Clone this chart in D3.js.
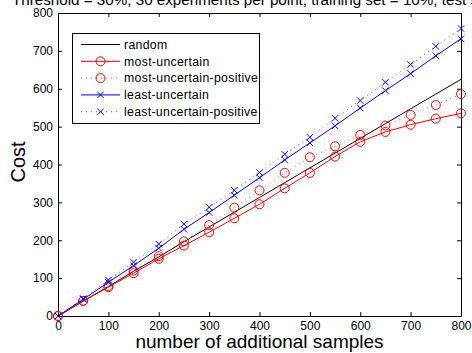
<!DOCTYPE html>
<html><head><meta charset="utf-8">
<script src="https://cdn.jsdelivr.net/npm/d3@7"></script>
<style>body{margin:0;background:#fff;overflow:hidden;} svg{display:block;font-family:"Liberation Sans",Arial,Helvetica,sans-serif;}</style>
</head><body><svg id="c" width="472" height="353"></svg>
<script>
const samples=[0,50,100,150,200,250,300,350,400,450,500,550,600,650,700,750,800];
const randomCost=[0,39,78,118,156,196,235,274,313,352,391,430,469,508,547,586,625];
const mostUncertain=[0,40,76,113,151,186,221,258,295,337,378,421,460,486,505,521,535];
const mostUncertainPositive=[0,40,79,120,158,197,240,286,332,378,419,448,478,503,531,557,586];
const leastUncertain=[0,44,89,133,179,229,273,319,365,412,457,502,549,595,640,687,732];
const leastUncertainPositive=[0,46,95,142,190,243,287,332,379,427,472,522,569,617,664,712,759];
const xTicks=[0,100,200,300,400,500,600,700,800];
const yTicks=[0,100,200,300,400,500,600,700,800];
const legendLabels=["random","most-uncertain","most-uncertain-positive","least-uncertain","least-uncertain-positive"];
const titleText="Threshold = 30%, 30 experiments per point, training set = 10%, test set";
const xLabel="number of additional samples";
const yLabel="Cost";

const svg=d3.select("#c");
const L=58,R=461,T=13,B=316;
const x=d3.scaleLinear().domain([0,800]).range([L,R]);
const y=d3.scaleLinear().domain([0,800]).range([B,T]);

const series=[
 {name:legendLabels[0],vals:randomCost,color:"#000",dash:null,marker:null},
 {name:legendLabels[1],vals:mostUncertain,color:"#ff0000",dash:null,marker:"o"},
 {name:legendLabels[2],vals:mostUncertainPositive,color:"#ff0000",dash:"1,4",marker:"o"},
 {name:legendLabels[3],vals:leastUncertain,color:"#0000ff",dash:null,marker:"x"},
 {name:legendLabels[4],vals:leastUncertainPositive,color:"#0000ff",dash:"1,4",marker:"x"}
];

// title (clipped at top, as in the reference)
svg.append("text").attr("x",12).attr("y",4.5).attr("font-size",15.2).attr("fill","#000").text(titleText);

// axes
const fmt=d3.format("d");
const gx=svg.append("g").attr("transform",`translate(0,${B})`)
 .call(d3.axisBottom(x).tickValues(xTicks).tickFormat(fmt).tickSizeInner(-4).tickSizeOuter(0).tickPadding(5));
const gy=svg.append("g").attr("transform",`translate(${L},0)`)
 .call(d3.axisLeft(y).tickValues(yTicks).tickFormat(fmt).tickSizeInner(-4).tickSizeOuter(0).tickPadding(5));
const gt=svg.append("g").attr("transform",`translate(0,${T})`)
 .call(d3.axisTop(x).tickValues(xTicks).tickFormat("").tickSizeInner(-4).tickSizeOuter(0));
const gr=svg.append("g").attr("transform",`translate(${R},0)`)
 .call(d3.axisRight(y).tickValues(yTicks).tickFormat("").tickSizeInner(-4).tickSizeOuter(0));
[gx,gy,gt,gr].forEach(g=>{
  g.selectAll("text").attr("font-size",12).attr("font-family","Liberation Sans, Arial, sans-serif").attr("fill","#000");
  g.selectAll("line").attr("stroke","#000");
  g.select(".domain").attr("stroke","#000");
});

// data
const line=d3.line().x((d,i)=>x(samples[i])).y(d=>y(d));
function marker(g,type,cx,cy,color){
  if(type==="o"){
    g.append("circle").attr("cx",cx).attr("cy",cy).attr("r",4.5).attr("fill","none").attr("stroke",color).attr("stroke-width",1);
  } else if(type==="x"){
    const s=3.2;
    g.append("path").attr("d",`M${cx-s},${cy-s}L${cx+s},${cy+s}M${cx-s},${cy+s}L${cx+s},${cy-s}`).attr("stroke",color).attr("stroke-width",1).attr("fill","none");
  }
}
const plot=svg.append("g");
series.forEach(s=>{
  const g=plot.append("g");
  g.append("path").datum(s.vals).attr("d",line).attr("fill","none").attr("stroke",s.color).attr("stroke-width",1)
   .attr("stroke-dasharray",s.dash).attr("stroke-opacity",s.dash?0.7:1);
  if(s.marker) s.vals.forEach((v,i)=>marker(g,s.marker,x(samples[i]),y(v),s.color));
});

// legend
const lg=svg.append("g");
const lx=72.5,ly=33.5,lw=187,lh=90,rowH=16.8,row0=44.5;
lg.append("rect").attr("x",lx).attr("y",ly).attr("width",lw).attr("height",lh).attr("fill","#fff").attr("stroke","#000").attr("stroke-width",1);
series.forEach((s,i)=>{
  const cy=row0+i*rowH;
  lg.append("line").attr("x1",81).attr("x2",120).attr("y1",cy).attr("y2",cy).attr("stroke",s.color).attr("stroke-width",1)
    .attr("stroke-dasharray",s.dash).attr("stroke-opacity",s.dash?0.7:1);
  if(s.marker) marker(lg,s.marker,100.5,cy,s.color);
  lg.append("text").attr("x",124).attr("y",cy).attr("dy","0.35em").attr("font-size",12.3).attr("letter-spacing",0.3).attr("fill","#000").text(s.name);
});

// axis labels
svg.append("text").attr("x",(L+R)/2).attr("y",348).attr("text-anchor","middle").attr("font-size",19).attr("fill","#000").text(xLabel);
svg.append("text").attr("transform","translate(25,162) rotate(-90)").attr("text-anchor","middle").attr("font-size",20).attr("fill","#000").text(yLabel);
</script></body></html>
